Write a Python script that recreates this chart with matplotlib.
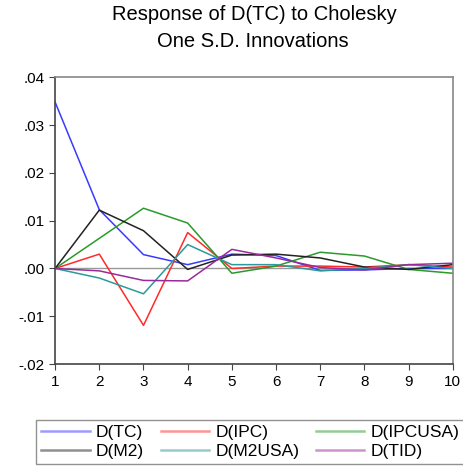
import matplotlib
matplotlib.use("Agg")
import matplotlib.pyplot as plt

plt.rcParams['font.family'] = ['Liberation Sans', 'DejaVu Sans']

periods = [1, 2, 3, 4, 5, 6, 7, 8, 9, 10]
d_tc = [0.0348, 0.0123, 0.0029, 0.0008, 0.0030, 0.0027, -0.0004, -0.0003, 0.0000, 0.0000]
d_ipc = [0.0, 0.0030, -0.0119, 0.0075, 0.0000, 0.0005, 0.0005, 0.0003, 0.0008, 0.0003]
d_ipcusa = [0.0, 0.0063, 0.0126, 0.0095, -0.0010, 0.0005, 0.0034, 0.0026, -0.0002, -0.0010]
d_m2 = [0.0, 0.0122, 0.0079, -0.0002, 0.0028, 0.0030, 0.0022, 0.0003, -0.0002, 0.0008]
d_m2usa = [0.0, -0.0020, -0.0053, 0.0050, 0.0008, 0.0008, -0.0005, 0.0000, 0.0008, 0.0000]
d_tid = [0.0, -0.0005, -0.0025, -0.0026, 0.0040, 0.0022, 0.0002, -0.0003, 0.0008, 0.0011]

names = ["D(TC)", "D(IPC)", "D(IPCUSA)", "D(M2)", "D(M2USA)", "D(TID)"]
values = [d_tc, d_ipc, d_ipcusa, d_m2, d_m2usa, d_tid]
colors = ["#3a3aff", "#ff2a2a", "#2a9a2a", "#222222", "#2a9a9a", "#9a2a9a"]

fig = plt.figure(figsize=(4.63, 4.68), dpi=100)
ax = fig.add_axes([0.119, 0.222, 0.859, 0.613])

ax.axhline(0, color="#999999", lw=1)
handles = {}
for name, vals, col in zip(names, values, colors):
    ax.plot(periods, vals, color=col, lw=1.1)
    h, = ax.plot([], [], color=col, lw=1.8, alpha=0.5, label=name)
    handles[name] = h

ax.set_xlim(1, 10)
ax.set_ylim(-0.02, 0.04)
ax.set_xticks(periods)
yt = [-0.02, -0.01, 0.0, 0.01, 0.02, 0.03, 0.04]
ax.set_yticks(yt)
ax.set_yticklabels(["-.02", "-.01", ".00", ".01", ".02", ".03", ".04"])
ax.tick_params(labelsize=11, direction="out", length=4, color="#444444")
for s in ["left", "bottom"]:
    ax.spines[s].set_color("#444444")
    ax.spines[s].set_linewidth(1.2)
for s in ["top", "right"]:
    ax.spines[s].set_color("#888888")
    ax.spines[s].set_linewidth(1.2)

fig.text(0.549, 0.968, "Response of D(TC) to Cholesky", ha="center", va="center", fontsize=14.5)
fig.text(0.547, 0.912, "One S.D. Innovations", ha="center", va="center", fontsize=14.5)

# matplotlib fills legend columns first, so order to get row-wise layout
order = ["D(TC)", "D(M2)", "D(IPC)", "D(M2USA)", "D(IPCUSA)", "D(TID)"]
leg = fig.legend(handles=[handles[n] for n in order], ncol=3, loc="lower left",
                 bbox_to_anchor=(0.078, 0.008),
                 fontsize=12.5, frameon=True, fancybox=False, handlelength=2.8,
                 borderpad=0.3, labelspacing=0.22, columnspacing=0.95,
                 handletextpad=0.35, borderaxespad=0)
leg.get_frame().set_edgecolor("#777777")
leg.get_frame().set_linewidth(1.0)

fig.savefig("out.png", dpi=100)
